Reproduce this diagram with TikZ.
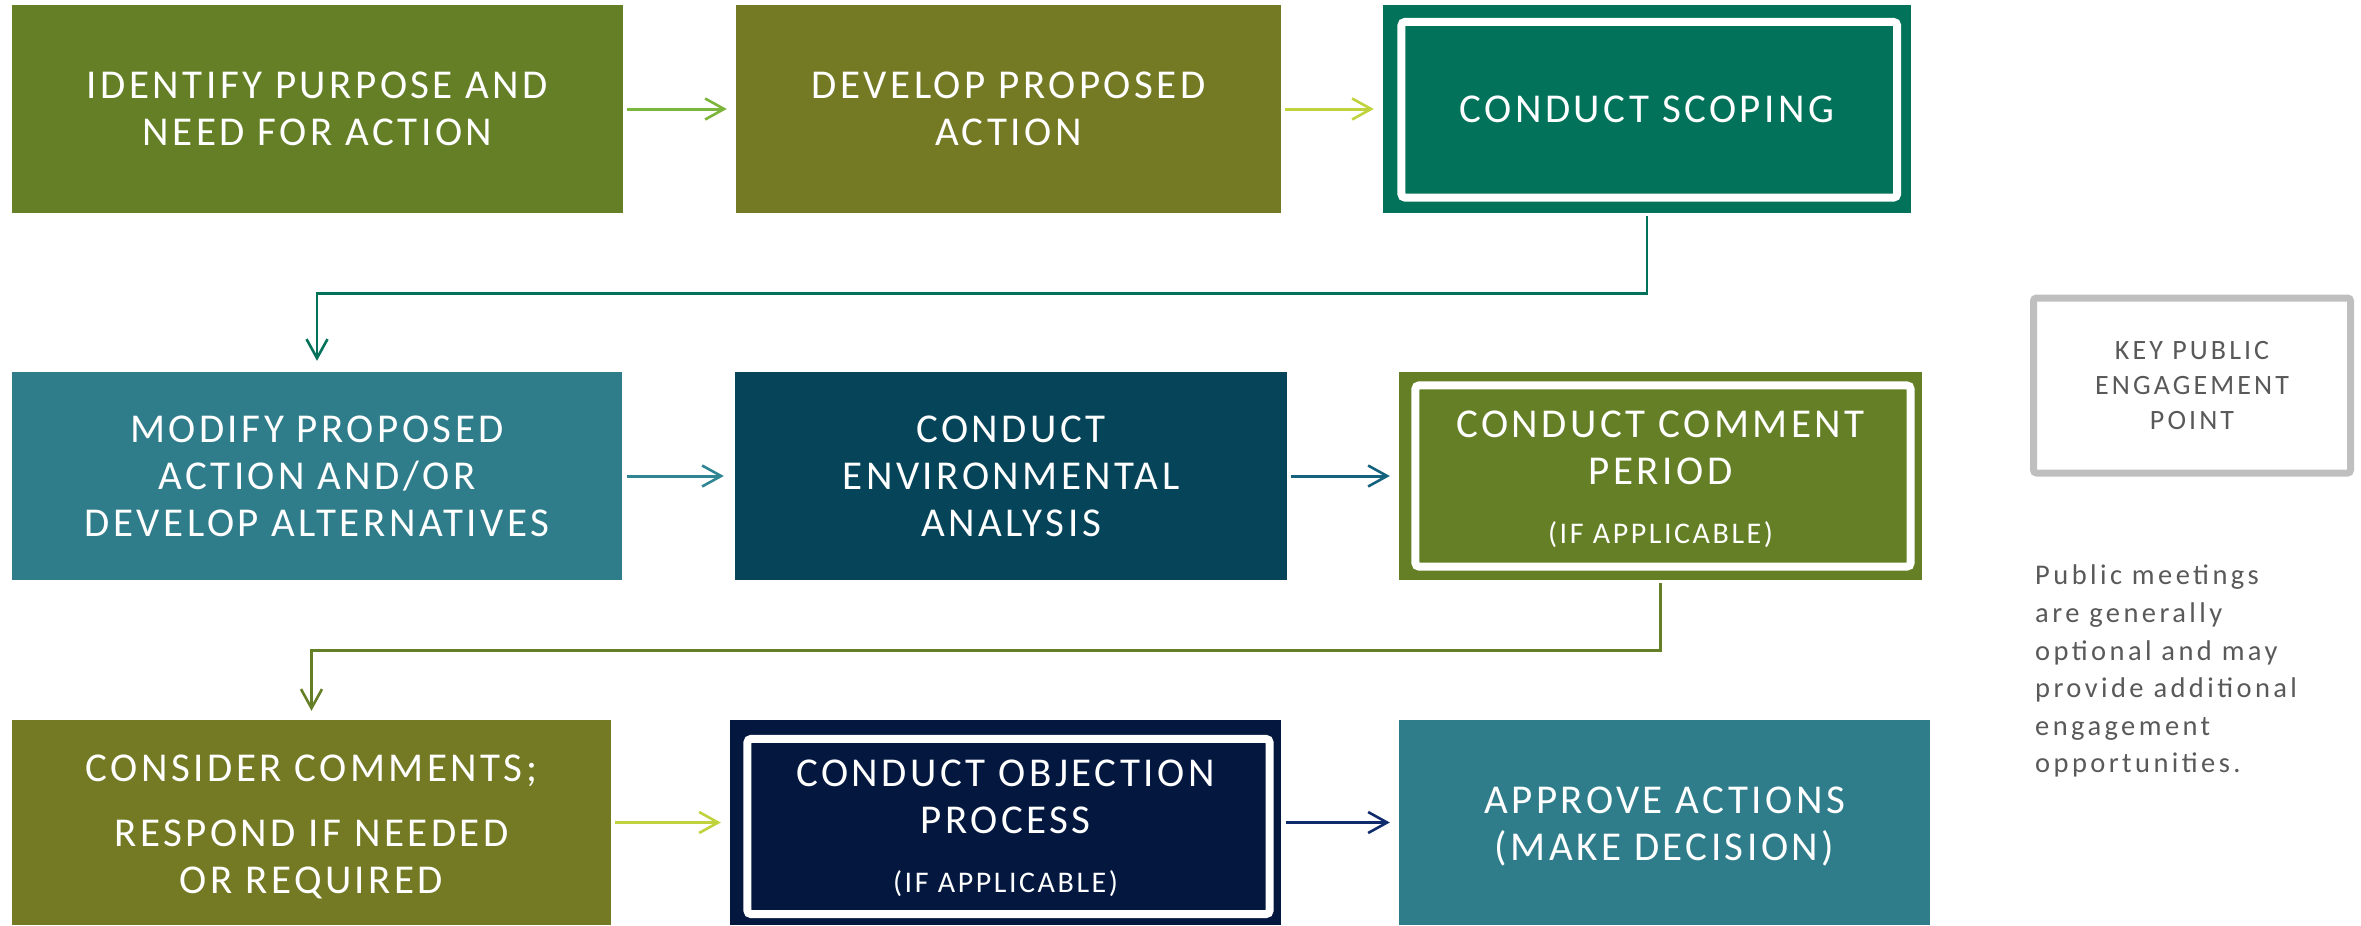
\documentclass[tikz,border=0pt]{standalone}
\usepackage{fontspec}
\setmainfont{Carlito}[LetterSpace=8.5]
\newfontfamily\legfont{Carlito}[LetterSpace=11]
\newfontfamily\parfont{Carlito}[LetterSpace=12]
\usetikzlibrary{arrows.meta,calc}
\definecolor{cOliveA}{HTML}{647F26}
\definecolor{cOliveB}{HTML}{747A24}
\definecolor{cTealG}{HTML}{03725A}
\definecolor{cTeal}{HTML}{2F7D8A}
\definecolor{cPetrol}{HTML}{064559}
\definecolor{cNavy}{HTML}{03173F}
\definecolor{aGreen}{HTML}{7CB53B}
\definecolor{aYellow}{HTML}{C0D33C}
\definecolor{aTeal}{HTML}{2F8592}
\definecolor{aPetrol}{HTML}{14627E}
\definecolor{aNavy}{HTML}{0F2B6C}
\definecolor{legGray}{HTML}{BFBFBF}
\definecolor{legText}{HTML}{595959}
\newcommand{\topstrut}[1]{\rule{0pt}{#1}}
\begin{document}
\begin{tikzpicture}[x=1bp,y=1bp,
  box/.style={rectangle, inner sep=0, text=white, align=center,
    font=\fontsize{41bp}{47bp}\selectfont},
  rowA/.style={box, minimum height=208bp},
  rowC/.style={box, minimum height=205bp},
  arr/.style={-{Straight Barb[length=19bp,width=21bp,line width=2.6bp]},
    line width=3bp, shorten <=4bp, shorten >=9bp},
  conn/.style={-{Straight Barb[length=19bp,width=21bp,line width=2.6bp]},
    line width=2.6bp},
  inner/.style={draw=white, line width=8bp, rounded corners=4bp}
]
\useasboundingbox (0,0) rectangle (2361,-925);

% row 1
\node[rowA, fill=cOliveA, minimum width=611bp] (b1) at (317.5,-109)
  {IDENTIFY PURPOSE AND\\NEED FOR ACTION};
\node[rowA, fill=cOliveB, minimum width=545bp] (b2) at (1008.5,-109)
  {DEVELOP PROPOSED\\ACTION};
\node[rowA, fill=cTealG, minimum width=528bp] (b3) at (1647,-109)
  {CONDUCT SCOPING};
\draw[inner] ($(b3.north west)+(18.5,-17)$) rectangle ($(b3.south east)+(-14,15.5)$);

% row 2
\node[rowA, fill=cTeal, minimum width=610bp] (b4) at (317,-476)
  {MODIFY PROPOSED\\ACTION AND/OR\\DEVELOP ALTERNATIVES};
\node[rowA, fill=cPetrol, minimum width=552bp] (b5) at (1011,-476)
  {CONDUCT\\ENVIRONMENTAL\\ANALYSIS};
\node[rowA, fill=cOliveA, minimum width=523bp] (b6) at (1660.5,-476)
  {\topstrut{34bp}CONDUCT COMMENT\\PERIOD\\[12bp]{\fontsize{30bp}{36bp}\selectfont (IF APPLICABLE)}};
\draw[inner] ($(b6.north west)+(16.5,-13.5)$) rectangle ($(b6.south east)+(-11.5,13.5)$);

% row 3
\node[rowC, fill=cOliveB, minimum width=599bp] (b7) at (311.5,-822.5)
  {\topstrut{35bp}CONSIDER COMMENTS;\\[18bp]RESPOND IF NEEDED\\OR REQUIRED};
\node[rowC, fill=cNavy, minimum width=551bp] (b8) at (1005.5,-822.5)
  {\topstrut{38bp}CONDUCT OBJECTION\\PROCESS\\[12bp]{\fontsize{30bp}{36bp}\selectfont (IF APPLICABLE)}};
\draw[inner] ($(b8.north west)+(17.5,-19)$) rectangle ($(b8.south east)+(-11.5,11)$);
\node[rowC, fill=cTeal, minimum width=531bp] (b9) at (1664.5,-822.5)
  {\topstrut{35bp}APPROVE ACTIONS\\(MAKE DECISION)};

% horizontal arrows
\draw[arr, draw=aGreen] (b1.east) -- (b2.west);
\draw[arr, draw=aYellow] (b2.east) -- (b3.west);
\draw[arr, draw=aTeal, shorten <=5bp, shorten >=11bp] (b4.east) -- (b5.west);
\draw[arr, draw=aPetrol] (b5.east) -- (b6.west);
\draw[arr, draw=aYellow] (b7.east) -- (b8.west);
\draw[arr, draw=aNavy, shorten <=5bp] (b8.east) -- (b9.west);

% return connectors
\draw[conn, draw=cTealG] ([yshift=-3bp]b3.south) -- ++(0,-77) -| ([yshift=11bp]b4.north);
\draw[conn, draw=cOliveA] ([yshift=-3bp]b6.south) -- ++(0,-67) -| ([yshift=9bp]b7.north);

% legend
\node[draw=legGray, line width=7bp, rounded corners=3bp, minimum width=317bp,
  minimum height=175bp, inner sep=0, align=center, text=legText,
  font=\legfont\fontsize{28bp}{35bp}\selectfont] (key) at (2192,-385.5)
  {KEY PUBLIC\\ENGAGEMENT\\POINT};
\node[anchor=north west, inner sep=0, align=left, text=legText,
  font=\parfont\fontsize{28.5bp}{37.5bp}\selectfont] (note) at (2035,-565)
  {Public meetings\\are generally\\optional and may\\provide additional\\engagement\\opportunities.};
\end{tikzpicture}
\end{document}
